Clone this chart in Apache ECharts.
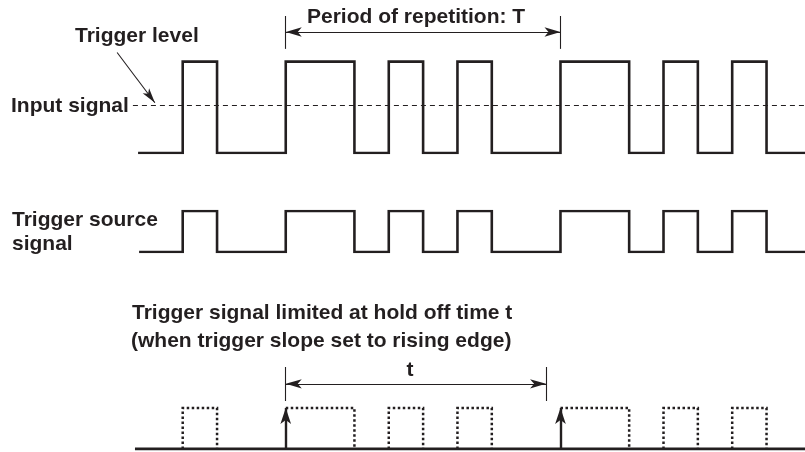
<!DOCTYPE html>
<html><head><meta charset="utf-8">
<script src="https://cdn.jsdelivr.net/npm/echarts@6/dist/echarts.min.js"></script>
<style>html,body{margin:0;padding:0;background:#fff}#c{width:805px;height:452px}</style>
</head><body><div id="c"></div>
<script>
// Time axis in units of one narrow pulse width
const inputTimes   = [-1.3, 0, 1, 3, 5, 6, 7, 8, 9, 11, 13, 14, 15, 16, 17, 18.12];
const inputLevels  = [0, 1, 0, 1, 0, 1, 0, 1, 0, 1, 0, 1, 0, 1, 0, 0];
const sourceTimes  = [-1.27, 0, 1, 3, 5, 6, 7, 8, 9, 11, 13, 14, 15, 16, 17, 18.12];
const sourceLevels = [0, 1, 0, 1, 0, 1, 0, 1, 0, 1, 0, 1, 0, 1, 0, 0];
const triggerLevel = 0.52;
const levelLineSpan = [-1.45, 18.12];
const pulseStarts  = [0, 3, 6, 8, 11, 14, 16];
const pulseEnds    = [1, 5, 7, 9, 13, 15, 17];
const triggerTimes = [3, 11];
const outputSpan   = [-1.39, 18.12];
const periodT      = [3, 11];
const holdOffT     = [3, 10.58];
const pointerFrom  = [-1.91, 1.10];
const pointerTo    = [-0.81, 0.55];

const INK = '#231f20';
const FONT = 'bold 21px "Liberation Sans", Arial, sans-serif';

const xAxisBase = {type:'value', min:-5, max:18.12, show:false};
const grids = [
  {left:11, right:0, top:16, height:137},
  {left:11, right:0, top:211, height:41},
  {left:11, right:0, top:367, height:82}
];
const xAxes = grids.map((g,i)=>Object.assign({gridIndex:i}, xAxisBase));
const yAxes = [
  {gridIndex:0, type:'value', min:0, max:1.5, show:false},
  {gridIndex:1, type:'value', min:0, max:1, show:false},
  {gridIndex:2, type:'value', min:0, max:2, show:false}
];

const zip = (a,b)=>a.map((v,i)=>[v,b[i]]);
const solid = w => ({color:INK, width:w, type:'solid', join:'miter', cap:'butt'});

const series = [];
// Input signal
series.push({type:'line', xAxisIndex:0, yAxisIndex:0, step:'end', symbol:'none', silent:true,
  data: zip(inputTimes, inputLevels), lineStyle: solid(2.6)});
// Trigger level (dashed)
series.push({type:'line', xAxisIndex:0, yAxisIndex:0, symbol:'none', silent:true,
  data: levelLineSpan.map(x=>[x, triggerLevel]), lineStyle:{color:INK, width:1.2, type:[5,4]}});
// Period arrow
series.push({type:'line', xAxisIndex:0, yAxisIndex:0, data:[], symbol:'none',
  markLine:{silent:true, symbol:['arrow','arrow'], symbolSize:[7,16], label:{show:false},
    lineStyle:{color:INK, width:1.1, type:'solid'},
    data:[[{coord:[periodT[0],1.325]},{coord:[periodT[1],1.325]}]]}});
// Period ticks
series.push({type:'line', xAxisIndex:0, yAxisIndex:0, data:[], symbol:'none',
  markLine:{silent:true, symbol:['none','none'], label:{show:false},
    lineStyle:{color:INK, width:1.1, type:'solid'},
    data: periodT.map(t=>[{coord:[t,1.14]},{coord:[t,1.5]}])}});
// Trigger-level pointer
series.push({type:'line', xAxisIndex:0, yAxisIndex:0, data:[], symbol:'none',
  markLine:{silent:true, symbol:['none','arrow'], symbolSize:[6,15], label:{show:false},
    lineStyle:{color:INK, width:1.1, type:'solid'},
    data:[[{coord:pointerFrom},{coord:pointerTo}]]}});
// Trigger source signal
series.push({type:'line', xAxisIndex:1, yAxisIndex:1, step:'end', symbol:'none', silent:true,
  data: zip(sourceTimes, sourceLevels), lineStyle: solid(2.6)});
// Output baseline
series.push({type:'line', xAxisIndex:2, yAxisIndex:2, symbol:'none', silent:true,
  data: outputSpan.map(x=>[x,0]), lineStyle: solid(2.8)});
// Dotted pulses
pulseStarts.forEach((a,i)=>{
  const b = pulseEnds[i];
  const trig = triggerTimes.includes(a);
  const pts = trig ? [[a,1],[b,1],[b,0]] : [[a,0],[a,1],[b,1],[b,0]];
  series.push({type:'line', xAxisIndex:2, yAxisIndex:2, symbol:'none', silent:true,
    data: pts, lineStyle:{color:INK, width:2.5, type:'dotted', join:'miter'}});
});
// Trigger arrows
series.push({type:'line', xAxisIndex:2, yAxisIndex:2, data:[], symbol:'none',
  markLine:{silent:true, symbol:['none','arrow'], symbolSize:[8,16], label:{show:false},
    lineStyle:{color:INK, width:2.4, type:'solid'},
    data: triggerTimes.map(t=>[{coord:[t,0]},{coord:[t,1]}])}});
// Hold-off arrow
series.push({type:'line', xAxisIndex:2, yAxisIndex:2, data:[], symbol:'none',
  markLine:{silent:true, symbol:['arrow','arrow'], symbolSize:[7,16], label:{show:false},
    lineStyle:{color:INK, width:1.1, type:'solid'},
    data:[[{coord:[holdOffT[0],1.59]},{coord:[holdOffT[1],1.59]}]]}});
// Hold-off ticks
series.push({type:'line', xAxisIndex:2, yAxisIndex:2, data:[], symbol:'none',
  markLine:{silent:true, symbol:['none','none'], label:{show:false},
    lineStyle:{color:INK, width:1.1, type:'solid'},
    data: holdOffT.map(t=>[{coord:[t,1.17]},{coord:[t,2]}])}});

const txt = (text, x, y, align) => ({type:'text', x, y, silent:true,
  style:{text, font:FONT, fill:INK, align:align||'left', verticalAlign:'middle',
         textAlign:align||'left', textVerticalAlign:'middle'}});

const chart = echarts.init(document.getElementById('c'), null, {renderer:'canvas'});
chart.setOption({
  animation:false,
  backgroundColor:'#ffffff',
  grid: grids, xAxis: xAxes, yAxis: yAxes,
  series,
  graphic:[
    txt('Period of repetition: T', 307, 17),
    txt('Trigger level', 75, 36),
    txt('Input signal', 11, 106),
    txt('Trigger source', 12, 220),
    txt('signal', 12, 244),
    txt('Trigger signal limited at hold off time t', 132, 313),
    txt('(when trigger slope set to rising edge)', 131, 341),
    txt('t', 410, 370, 'center')
  ]
});
</script></body></html>
